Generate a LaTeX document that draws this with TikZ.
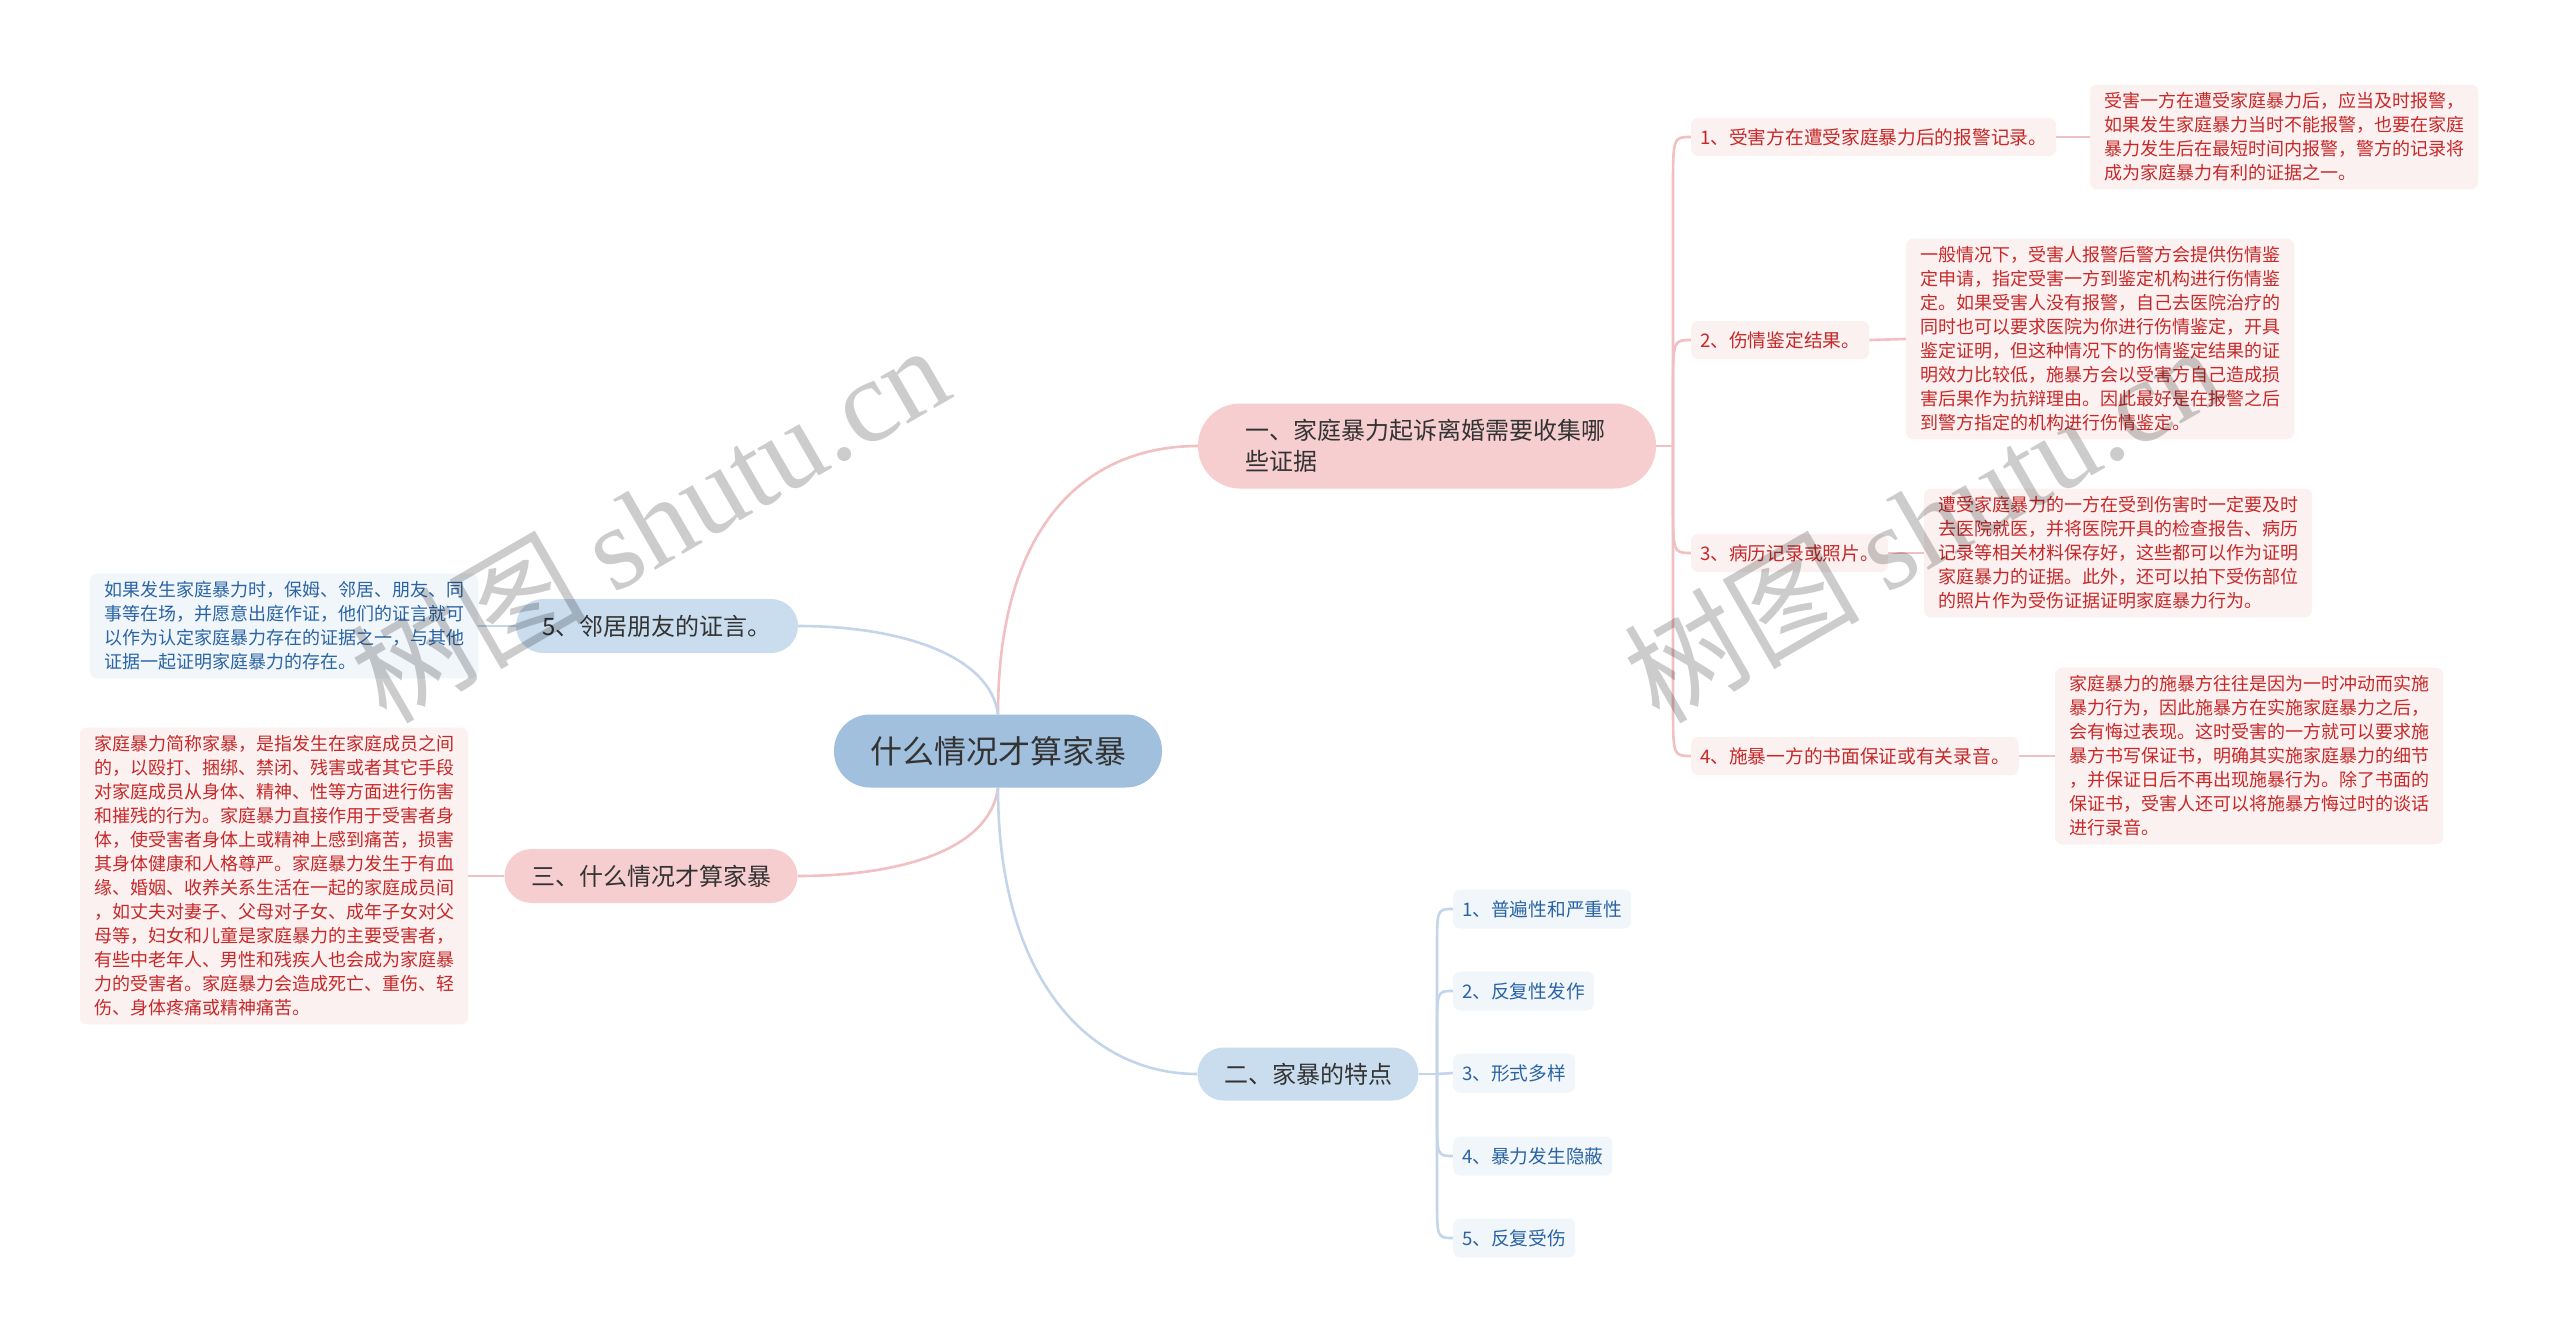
\documentclass[tikz,border=0pt]{standalone}
\usepackage{fontspec}
\newfontfamily\cjk{Noto Sans CJK SC}
\newfontfamily\wmlat{Liberation Serif}
\pgfdeclarelayer{back}
\pgfdeclarelayer{bg}
\pgfsetlayers{back,bg,main}
\definecolor{pinkfill}{RGB}{246,206,207}
\definecolor{bluefill}{RGB}{202,221,238}
\definecolor{rootfill}{RGB}{160,192,221}
\definecolor{pleaf}{RGB}{252,241,241}
\definecolor{bleaf}{RGB}{241,246,251}
\definecolor{ptext}{RGB}{200,40,40}
\definecolor{btext}{RGB}{42,100,165}
\definecolor{pline}{RGB}{240,192,194}
\definecolor{bline}{RGB}{195,214,233}
\definecolor{dark}{RGB}{51,51,51}
\tikzset{
  rootnode/.style={fill=rootfill, rounded corners=36pt, minimum width=328pt, minimum height=73pt,
    inner sep=0pt, text=dark, font=\cjk\fontsize{32}{38}\selectfont},
  pbranch/.style={fill=pinkfill, inner sep=0pt, text=dark, font=\cjk\fontsize{24}{31}\selectfont},
  bbranch/.style={fill=bluefill, inner sep=0pt, text=dark, font=\cjk\fontsize{24}{31}\selectfont},
  pleafnode/.style={fill=pleaf, rounded corners=7pt, text=ptext, anchor=west, minimum height=38pt,
    inner xsep=9pt, font=\cjk\fontsize{18.7}{24}\selectfont},
  bleafnode/.style={fill=bleaf, rounded corners=7pt, text=btext, anchor=west, minimum height=39pt,
    inner xsep=9pt, font=\cjk\fontsize{18.7}{24}\selectfont},
  pdetail/.style={fill=pleaf, rounded corners=7pt, text=ptext, align=left, inner xsep=14pt,
    inner ysep=8pt, font=\cjk\fontsize{18}{24}\selectfont},
  bdetail/.style={fill=bleaf, rounded corners=7pt, text=btext, align=left, inner xsep=14pt,
    inner ysep=8pt, font=\cjk\fontsize{18}{24}\selectfont},
  pconn/.style={draw=pline, line width=2.6pt},
  bconn/.style={draw=bline, line width=2.6pt},
  watermark/.style={rotate=30, text=black, text opacity=0.2, inner sep=0pt}
}
\begin{document}
\begin{tikzpicture}[x=1pt,y=-1pt]
\useasboundingbox (0,0) rectangle (2560,1338);
\begin{pgfonlayer}{back}
  \fill[white] (0,0) rectangle (2560,1338);
\end{pgfonlayer}

% root
\node[rootnode] (root) at (998,751) {什么情况才算家暴};

% main branches
\node[pbranch, rounded corners=42pt, minimum width=458pt, minimum height=85pt, text width=364pt, align=left]
  (b1) at (1427,446) {一、家庭暴力起诉离婚需要收集哪\\些证据};
\node[bbranch, rounded corners=26pt, minimum width=221pt, minimum height=53pt] (b2) at (1308,1074) {二、家暴的特点};
\node[bbranch, rounded corners=27pt, minimum width=282pt, minimum height=54pt] (b5) at (657,626) {5、邻居朋友的证言。};
\node[pbranch, rounded corners=27pt, minimum width=293pt, minimum height=54pt] (b3) at (651,876) {三、什么情况才算家暴};

% branch 1 leaves
\node[pleafnode] (l1) at (1691,137) {1、受害方在遭受家庭暴力后的报警记录。};
\node[pleafnode] (l2) at (1691,340) {2、伤情鉴定结果。};
\node[pleafnode] (l3) at (1691,553) {3、病历记录或照片。};
\node[pleafnode] (l4) at (1691,756) {4、施暴一方的书面保证或有关录音。};

% details
\node[pdetail] (d1) at (2284,137) {受害一方在遭受家庭暴力后，应当及时报警，\\如果发生家庭暴力当时不能报警，也要在家庭\\暴力发生后在最短时间内报警，警方的记录将\\成为家庭暴力有利的证据之一。};
\node[pdetail] (d2) at (2100,339) {一般情况下，受害人报警后警方会提供伤情鉴\\定申请，指定受害一方到鉴定机构进行伤情鉴\\定。如果受害人没有报警，自己去医院治疗的\\同时也可以要求医院为你进行伤情鉴定，开具\\鉴定证明，但这种情况下的伤情鉴定结果的证\\明效力比较低，施暴方会以受害方自己造成损\\害后果作为抗辩理由。因此最好是在报警之后\\到警方指定的机构进行伤情鉴定。};
\node[pdetail] (d3) at (2118,553) {遭受家庭暴力的一方在受到伤害时一定要及时\\去医院就医，并将医院开具的检查报告、病历\\记录等相关材料保存好，这些都可以作为证明\\家庭暴力的证据。此外，还可以拍下受伤部位\\的照片作为受伤证据证明家庭暴力行为。};
\node[pdetail] (d4) at (2249,756) {家庭暴力的施暴方往往是因为一时冲动而实施\\暴力行为，因此施暴方在实施家庭暴力之后，\\会有悔过表现。这时受害的一方就可以要求施\\暴方书写保证书，明确其实施家庭暴力的细节\\，并保证日后不再出现施暴行为。除了书面的\\保证书，受害人还可以将施暴方悔过时的谈话\\进行录音。};
\node[bdetail] (d5) at (284,626) {如果发生家庭暴力时，保姆、邻居、朋友、同\\事等在场，并愿意出庭作证，他们的证言就可\\以作为认定家庭暴力存在的证据之一，与其他\\证据一起证明家庭暴力的存在。};
\node[pdetail] (d6) at (274,876) {家庭暴力简称家暴，是指发生在家庭成员之间\\的，以殴打、捆绑、禁闭、残害或者其它手段\\对家庭成员从身体、精神、性等方面进行伤害\\和摧残的行为。家庭暴力直接作用于受害者身\\体，使受害者身体上或精神上感到痛苦，损害\\其身体健康和人格尊严。家庭暴力发生于有血\\缘、婚姻、收养关系生活在一起的家庭成员间\\，如丈夫对妻子、父母对子女、成年子女对父\\母等，妇女和儿童是家庭暴力的主要受害者，\\有些中老年人、男性和残疾人也会成为家庭暴\\力的受害者。家庭暴力会造成死亡、重伤、轻\\伤、身体疼痛或精神痛苦。};

% branch 2 leaves
\node[bleafnode] (c1) at (1453,909) {1、普遍性和严重性};
\node[bleafnode] (c2) at (1453,991) {2、反复性发作};
\node[bleafnode] (c3) at (1453,1073) {3、形式多样};
\node[bleafnode] (c4) at (1453,1156) {4、暴力发生隐蔽};
\node[bleafnode] (c5) at (1453,1238) {5、反复受伤};

\coordinate (j1) at (1673,446);
\coordinate (j2) at (1437,1074);

\begin{pgfonlayer}{bg}
  % root to branches
  \draw[pconn] (root.north) .. controls (998,520) and (1090,446) .. (b1.west);
  \draw[bconn] (root.north) .. controls (990,655) and (900,626) .. (b5.east);
  \draw[pconn] (root.south) .. controls (990,850) and (900,876) .. (b3.east);
  \draw[bconn] (root.south) .. controls (998,980) and (1090,1074) .. (b2.west);
  % branch 1 trunk
  \draw[pconn] (b1.east) -- (j1);
  \draw[pconn] (j1) -- (1673,190) .. controls (1673,137) .. (l1.west);
  \draw[pconn] (j1) -- (1673,393) .. controls (1673,340) .. (l2.west);
  \draw[pconn] (j1) -- (1673,500) .. controls (1673,553) .. (l3.west);
  \draw[pconn] (j1) -- (1673,703) .. controls (1673,756) .. (l4.west);
  % leaf to detail
  \draw[pconn] (l1.east) -- (d1.west);
  \draw[pconn] (l2.east) -- (d2.west);
  \draw[pconn] (l3.east) -- (d3.west);
  \draw[pconn] (l4.east) -- (d4.west);
  \draw[bconn] (d5.east) -- (b5.west);
  \draw[pconn] (d6.east) -- (b3.west);
  % branch 2 trunk
  \draw[bconn] (b2.east) -- (j2);
  \draw[bconn] (j2) -- (1437,950) .. controls (1437,909) .. (c1.west);
  \draw[bconn] (j2) -- (1437,1032) .. controls (1437,991) .. (c2.west);
  \draw[bconn] (j2) -- (c3.west);
  \draw[bconn] (j2) -- (1437,1115) .. controls (1437,1156) .. (c4.west);
  \draw[bconn] (j2) -- (1437,1197) .. controls (1437,1238) .. (c5.west);
\end{pgfonlayer}

% watermarks
\node[watermark] (wm1) at (649,522) {\cjk\fontsize{118}{130}\selectfont 树图 {\wmlat shutu.cn}};
\node[watermark] (wm2) at (1922,522) {\cjk\fontsize{118}{130}\selectfont 树图 {\wmlat shutu.cn}};
\end{tikzpicture}
\end{document}
